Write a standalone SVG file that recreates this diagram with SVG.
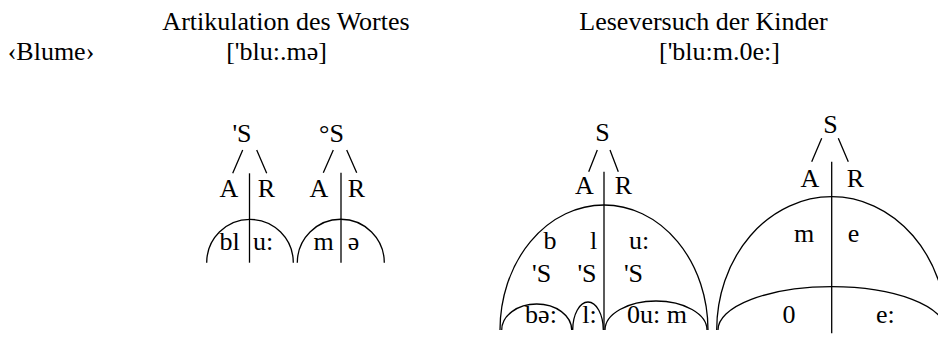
<svg xmlns="http://www.w3.org/2000/svg" width="938" height="338" viewBox="0 0 938 338" font-family="'Liberation Serif', 'Times New Roman', serif" font-size="26">
<style>
text{font-family:"Liberation Serif","Times New Roman",serif;font-size:26px;fill:#000;text-anchor:middle}
.l{fill:none;stroke:#000;stroke-width:1.3}
</style>
<rect width="938" height="338" fill="#fff"/>
<g id="headers">
<text x="286" y="29.5">Artikulation des Wortes</text>
<text x="703.5" y="29.5">Leseversuch der Kinder</text>
<text x="51" y="60">‹Blume›</text>
<text x="276.5" y="60">['blu:.mə]</text>
<text x="719.5" y="60">['blu:m.0e:]</text>
</g>
<g id="connectors" class="l">
<path d="M242.7 150L232.7 173.3M256.7 150L266.7 173.3"/>
<path d="M333.3 150L323.3 172.7M346.7 150L356.7 172.7"/>
<path d="M597.3 150L588.7 171.7M610 150L618.3 171.7"/>
<path d="M821.7 138.3L811.7 161.7M838.3 138.3L848.3 161.7"/>
</g>
<g id="tree1">
<text x="242" y="142">'S</text>
<text x="229" y="197">A</text>
<text x="266.5" y="197">R</text>
<path class="l" d="M249.5 173.3V262.7"/>
<path class="l" d="M206.7 262.7A43.3 43.3 0 0 1 293.3 262.7"/>
<text x="229.5" y="250">bl</text>
<text x="263" y="250">u:</text>
</g>
<g id="tree2">
<text x="331.5" y="142">°S</text>
<text x="319" y="197">A</text>
<text x="356.5" y="197">R</text>
<path class="l" d="M341 172.7V262.7"/>
<path class="l" d="M297.3 262.7A43.5 43.5 0 0 1 384.3 262.7"/>
<text x="323.5" y="250">m</text>
<text x="353.5" y="250">ə</text>
</g>
<g id="tree3">
<text x="602.5" y="141">S</text>
<text x="584.5" y="194.3">A</text>
<text x="623.5" y="194.3">R</text>
<path class="l" d="M604 171.7V330"/>
<path class="l" d="M500 330A104 125 0 0 1 708 330"/>
<path class="l" d="M501.7 330A35 26 0 0 1 571.7 330M572.7 330A15.3 28 0 0 1 603.3 330M605 330A51 29 0 0 1 707 330"/>
<text x="550" y="249.3">b</text>
<text x="593.5" y="249.3">l</text>
<text x="639" y="249.3">u:</text>
<text x="541.7" y="281.7">'S</text>
<text x="587" y="281.7">'S</text>
<text x="633.5" y="281.7">'S</text>
<text x="541" y="323.3">bə:</text>
<text x="589.5" y="323.3">l:</text>
<text x="657" y="323.3">0u: m</text>
</g>
<g id="tree4">
<text x="830.5" y="133.3">S</text>
<text x="810" y="187.3">A</text>
<text x="855.3" y="187.3">R</text>
<path class="l" d="M831.7 161.7V333.3"/>
<path class="l" d="M716.7 330A115 133.3 0 0 1 946.7 330"/>
<path class="l" d="M718 330A113.7 43.3 0 0 1 945.4 330"/>
<text x="804" y="241.7">m</text>
<text x="853.5" y="241.7">e</text>
<text x="789" y="322.7">0</text>
<text x="885.3" y="322.7">e:</text>
</g>
</svg>
